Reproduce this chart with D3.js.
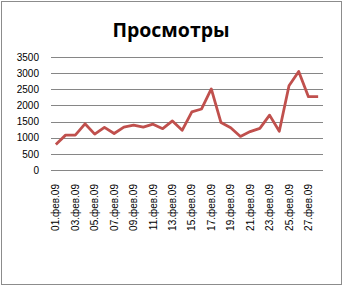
<!DOCTYPE html>
<html>
<head>
<meta charset="utf-8">
<script src="https://cdn.jsdelivr.net/npm/d3@7"></script>
<style>
  body { margin: 0; background: #fff; }
  svg { display: block; }
</style>
</head>
<body>
<div id="chart"></div>
<script>
// Просмотры за февраль 2009
var days = d3.range(1, 29).map(function(d) { return (d < 10 ? "0" + d : "" + d) + ".фев.09"; });
var views = [790, 1080, 1080, 1430, 1110, 1320, 1130, 1330, 1390, 1330, 1420, 1280, 1520,
             1230, 1800, 1890, 2510, 1470, 1310, 1040, 1190, 1290, 1700, 1200, 2610, 3050, 2270, 2270];
var yTicks = [0, 500, 1000, 1500, 2000, 2500, 3000, 3500];

var svgWidth = 343;
var svgHeight = 286;
var margin = { top: 57, right: 20, bottom: 116, left: 51 };
var width = svgWidth - margin.left - margin.right;
var height = svgHeight - margin.top - margin.bottom;

var svg = d3.select("#chart")
  .append("svg")
  .attr("width", svgWidth)
  .attr("height", svgHeight);

// outer frame
svg.append("rect")
  .attr("x", 1.5).attr("y", 1.5)
  .attr("width", svgWidth - 3).attr("height", svgHeight - 3)
  .attr("fill", "#fff")
  .attr("stroke", "#8c8c8c");

svg.append("text")
  .attr("x", 171)
  .attr("y", 37)
  .attr("text-anchor", "middle")
  .attr("font-family", "Open Sans")
  .attr("font-weight", "bold")
  .attr("font-size", 19.5)
  .text("Просмотры");

var chartGroup = svg.append("g")
  .attr("transform", `translate(${margin.left}, ${margin.top})`);

var xScale = d3.scaleBand()
  .domain(days)
  .range([0, width]);

var yScale = d3.scaleLinear()
  .domain([0, 3500])
  .range([height, 0]);

// gridlines
chartGroup.selectAll(".grid")
  .data(yTicks)
  .enter()
  .append("line")
  .attr("x1", 0)
  .attr("x2", width)
  .attr("y1", d => Math.round(yScale(d)) + 0.5)
  .attr("y2", d => Math.round(yScale(d)) + 0.5)
  .attr("stroke", "#868686");

var leftAxis = d3.axisLeft(yScale).tickValues(yTicks).tickFormat(d3.format("d")).tickSize(0).tickPadding(12);
var yAxis = chartGroup.append("g").call(leftAxis);
yAxis.select(".domain").remove();
yAxis.selectAll("text")
  .attr("font-family", "Liberation Sans")
  .attr("font-size", 10)
  .attr("fill", "#000");

var bottomAxis = d3.axisBottom(xScale)
  .tickValues(days.filter((d, i) => i % 2 === 0))
  .tickSize(0);
var xAxis = chartGroup.append("g")
  .attr("transform", `translate(0, ${height})`)
  .call(bottomAxis);
xAxis.select(".domain").remove();
xAxis.selectAll("text")
  .attr("font-family", "Liberation Sans")
  .attr("font-size", 10)
  .attr("fill", "#000")
  .attr("transform", "rotate(-90)")
  .attr("text-anchor", "end")
  .attr("x", -14)
  .attr("y", 0)
  .attr("dy", "0.35em");

var line = d3.line()
  .x((d, i) => xScale(days[i]) + xScale.bandwidth() / 2)
  .y(d => yScale(d));

chartGroup.append("path")
  .datum(views)
  .attr("d", line)
  .attr("fill", "none")
  .attr("stroke", "#c0504d")
  .attr("stroke-width", 2.8)
  .attr("stroke-linejoin", "round");
</script>
</body>
</html>
